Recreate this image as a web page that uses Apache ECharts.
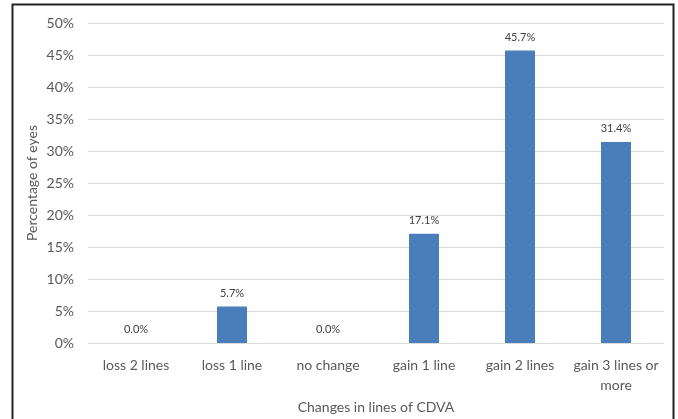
<!DOCTYPE html>
<html style="height: 100%">
<head>
<meta charset="utf-8">
<script src="https://cdn.jsdelivr.net/npm/echarts@6/dist/echarts.min.js"></script>
</head>
<body style="height: 100%; margin: 0; background: #fff">
<div id="container" style="width: 678px; height: 419px"></div>
<script type="text/javascript">
var categories = ['loss 2 lines', 'loss 1 line', 'no change', 'gain 1 line', 'gain 2 lines', 'gain 3 lines or\nmore'];
var percentEyes = [0.0, 5.7, 0.0, 17.1, 45.7, 31.4];
var yTicks = [0, 5, 10, 15, 20, 25, 30, 35, 40, 45, 50];

var myChart = echarts.init(document.getElementById('container'));
var font = 'Lato, "Open Sans", sans-serif';

option = {
    backgroundColor: '#fff',
    animation: false,
    textStyle: { fontFamily: font },
    // outer frame around the picture
    graphic: [{
        type: 'rect',
        shape: { x: 12.5, y: 4.5, width: 661, height: 430 },
        style: { fill: 'none', stroke: '#222', lineWidth: 2 },
        silent: true
    }],
    grid: { left: 88, right: 14, top: 23, bottom: 72 },
    xAxis: {
        type: 'category',
        data: categories,
        name: 'Changes in lines of CDVA',
        nameLocation: 'middle',
        nameGap: 56,
        nameTextStyle: { color: '#595959', fontSize: 14, fontFamily: font },
        axisLine: { lineStyle: { color: '#d9d9d9' } },
        axisTick: { show: false },
        axisLabel: { color: '#595959', fontSize: 14, margin: 12, interval: 0, lineHeight: 20, fontFamily: font }
    },
    yAxis: {
        type: 'value',
        min: yTicks[0],
        max: yTicks[yTicks.length - 1],
        interval: 5,
        name: 'Percentage of eyes',
        nameLocation: 'middle',
        nameGap: 49,
        nameMoveOverlap: false,
        nameTextStyle: { color: '#595959', fontSize: 14, fontFamily: font },
        axisLine: { show: false },
        axisTick: { show: false },
        splitLine: { lineStyle: { color: '#d9d9d9' } },
        axisLabel: {
            color: '#595959', fontSize: 14, margin: 14, fontFamily: font,
            formatter: function (v) { return v + '%'; }
        }
    },
    series: [{
        type: 'bar',
        data: percentEyes,
        barWidth: 30,
        itemStyle: { color: '#4a7ebb' },
        label: {
            show: true,
            position: 'top',
            distance: 8,
            color: '#404040',
            fontSize: 11,
            fontFamily: font,
            formatter: function (p) { return p.value.toFixed(1) + '%'; }
        }
    }]
};

myChart.setOption(option);
</script>
</body>
</html>
